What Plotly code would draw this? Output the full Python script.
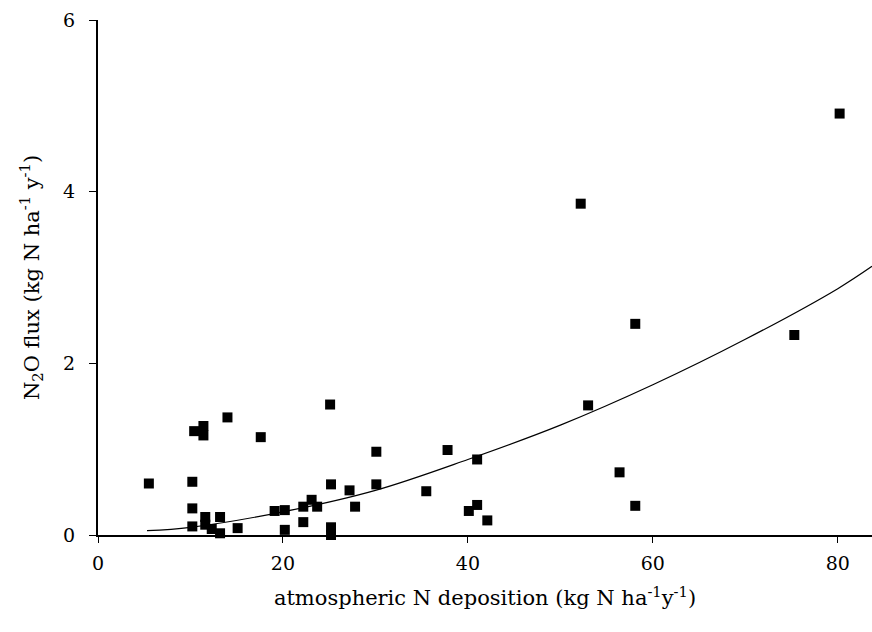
import plotly.graph_objects as go

# Atmospheric N deposition (kg N ha-1 y-1)
x_dep = [5.5, 10.2, 10.2, 10.2, 10.4, 11.4, 11.4, 11.6, 11.6, 12.3, 13.2, 13.2,
         14.0, 15.1, 17.6, 19.1, 20.2, 20.2, 22.2, 22.2, 23.1, 23.7, 25.1, 25.2,
         25.2, 25.2, 27.2, 27.8, 30.1, 30.1, 35.5, 37.8, 40.1, 41.0, 41.0, 42.1,
         52.2, 53.0, 56.4, 58.1, 58.1, 75.3, 80.2]
# N2O flux (kg N ha-1 y-1)
n2o = [0.60, 0.62, 0.31, 0.10, 1.21, 1.27, 1.16, 0.21, 0.12, 0.07, 0.02, 0.21,
       1.37, 0.08, 1.14, 0.28, 0.29, 0.06, 0.33, 0.15, 0.41, 0.33, 1.52, 0.59,
       0.09, 0.00, 0.52, 0.33, 0.97, 0.59, 0.51, 0.99, 0.28, 0.88, 0.35, 0.17,
       3.86, 1.51, 0.73, 2.46, 0.34, 2.33, 4.91]

# Fitted curve
fit_x = [5.3, 10, 20, 30, 40, 50, 60, 70, 80, 83.7]
fit_y = [0.05, 0.09, 0.27, 0.52, 0.88, 1.28, 1.75, 2.28, 2.87, 3.13]

x_ticks = [0, 20, 40, 60, 80]
y_ticks = [0, 2, 4, 6]

FONT = "DejaVu Serif"

fig = go.Figure()
fig.add_trace(go.Scatter(
    x=fit_x, y=fit_y, mode="lines",
    line=dict(color="black", width=1.2, shape="spline"),
    showlegend=False, hoverinfo="skip", cliponaxis=False,
))
fig.add_trace(go.Scatter(
    x=x_dep, y=n2o, mode="markers",
    marker=dict(symbol="square", size=10, color="black", line=dict(width=0)),
    showlegend=False, cliponaxis=False,
))

fig.update_layout(
    width=872, height=632,
    margin=dict(l=98, r=0, t=20, b=97),
    paper_bgcolor="white", plot_bgcolor="white",
    font=dict(family=FONT, size=19, color="black"),
    xaxis=dict(
        range=[0, 83.7], tickvals=x_ticks, ticktext=[str(v) for v in x_ticks],
        showgrid=False, zeroline=False, showline=True, linecolor="black", linewidth=2,
        ticks="outside", ticklen=6, tickwidth=1, tickcolor="black",
        tickfont=dict(family=FONT, size=19), ticklabelstandoff=4,
        title=dict(text="atmospheric N deposition (kg N ha<sup>-1</sup>y<sup>-1</sup>)",
                   font=dict(family=FONT, size=21), standoff=18),
    ),
    yaxis=dict(
        range=[0, 6], tickvals=y_ticks, ticktext=[str(v) for v in y_ticks],
        showgrid=False, zeroline=False, showline=True, linecolor="black", linewidth=2,
        ticks="outside", ticklen=7, tickwidth=1, tickcolor="black",
        tickfont=dict(family=FONT, size=19), ticklabelstandoff=10,
        title=dict(text="N<sub>2</sub>O flux (kg N ha<sup>-1</sup> y<sup>-1</sup>)",
                   font=dict(family=FONT, size=21), standoff=18),
    ),
)

fig.write_html("out.html")
